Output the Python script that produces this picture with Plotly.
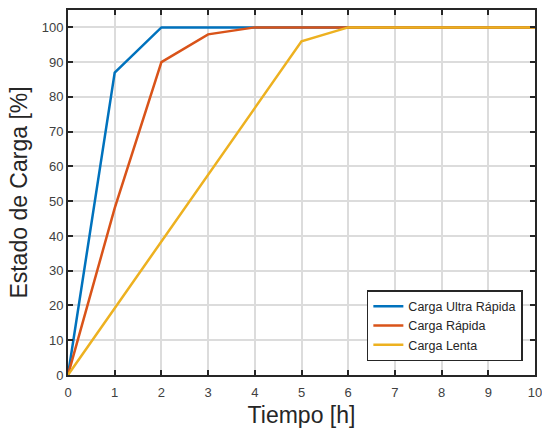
import plotly.graph_objects as go

tiempo = [0, 1, 2, 3, 4, 5, 6, 7, 8, 9, 10]
ultra_rapida = [0, 87, 100, 100, 100, 100, 100, 100, 100, 100, 100]
rapida = [0, 48, 90, 98, 100, 100, 100, 100, 100, 100, 100]
lenta = [0, 19.2, 38.4, 57.6, 76.8, 96, 100, 100, 100, 100, 100]

series = [
    ("Carga Ultra Rápida", ultra_rapida, "#0072BD"),
    ("Carga Rápida", rapida, "#D95319"),
    ("Carga Lenta", lenta, "#EDB120"),
]

fig = go.Figure()
for name, vals, col in series:
    fig.add_trace(go.Scatter(x=tiempo, y=vals, mode="lines", name=name,
                             line=dict(color=col, width=2.5)))

axis_common = dict(
    showline=True, linecolor="#262626", linewidth=2, mirror="allticks",
    ticks="inside", ticklen=5, tickwidth=2, tickcolor="#262626",
    showgrid=True, gridcolor="#dcdcdc", gridwidth=1.5, automargin=False,
    zeroline=False, tickfont=dict(family="Liberation Sans, Arial", size=13, color="#404040"),
)

fig.update_layout(
    width=542, height=430,
    margin=dict(l=68, r=7, t=10, b=55),
    paper_bgcolor="white", plot_bgcolor="white",
    font=dict(family="Liberation Sans, Arial", color="#262626"),
    xaxis=dict(range=[0, 10], dtick=1, ticklabelstandoff=4, ticklabeloverflow="allow",
               title=dict(text="Tiempo [h]", font=dict(size=23, color="#262626"), standoff=8),
               **axis_common),
    yaxis=dict(range=[0, 105], tickvals=list(range(0, 101, 10)),
               title=dict(text="Estado de Carga [%]", font=dict(size=23, color="#262626"), standoff=8),
               **axis_common),
    legend=dict(x=0.974, y=0.038, xanchor="right", yanchor="bottom",
                bgcolor="white", bordercolor="#262626", borderwidth=1.5,
                font=dict(size=12.5, color="#262626"), tracegroupgap=0),
    showlegend=True,
)

fig.write_html("out.html")
